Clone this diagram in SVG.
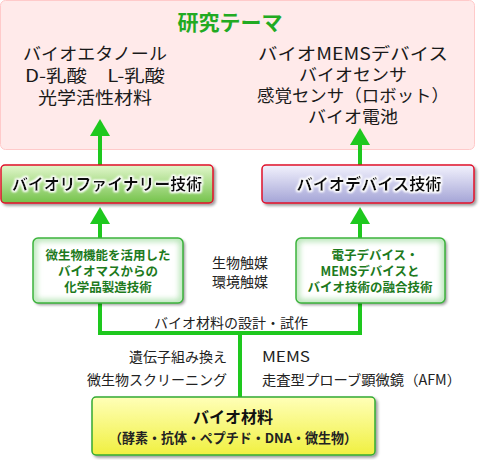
<svg xmlns="http://www.w3.org/2000/svg" width="480" height="460" viewBox="0 0 480 460">
<defs>
<linearGradient id="gGreen" x1="0" y1="0" x2="0" y2="1"><stop offset="0" stop-color="#e2f7cc"/><stop offset="1" stop-color="#74c24a"/></linearGradient>
<linearGradient id="gBlue" x1="0" y1="0" x2="0" y2="1"><stop offset="0" stop-color="#f2f2fd"/><stop offset="1" stop-color="#a4a4d6"/></linearGradient>
<linearGradient id="gYellow" x1="0" y1="0" x2="0" y2="1"><stop offset="0" stop-color="#ffffb8"/><stop offset="1" stop-color="#f0f040"/></linearGradient>
<filter id="shadow" x="-10%" y="-10%" width="130%" height="140%"><feGaussianBlur in="SourceAlpha" stdDeviation="1.5"/><feOffset dx="2" dy="2" result="b"/><feComponentTransfer><feFuncA type="linear" slope="0.4"/></feComponentTransfer><feMerge><feMergeNode/><feMergeNode in="SourceGraphic"/></feMerge></filter>
<filter id="halo" x="-10%" y="-40%" width="120%" height="180%"><feMorphology in="SourceAlpha" operator="dilate" radius="1.3" result="d"/><feGaussianBlur in="d" stdDeviation="1.3" result="b"/><feFlood flood-color="#ffffff" result="w"/><feComposite in="w" in2="b" operator="in" result="h"/><feMerge><feMergeNode in="h"/><feMergeNode in="h"/><feMergeNode in="SourceGraphic"/></feMerge></filter>
<filter id="inner" x="0" y="0" width="100%" height="100%"><feGaussianBlur stdDeviation="3"/></filter>
<clipPath id="clipL"><rect x="33" y="238" width="150" height="65" rx="5"/></clipPath>
<clipPath id="clipR"><rect x="296" y="238" width="149" height="65" rx="5"/></clipPath>
<style>
text{font-family:"Noto Sans CJK JP","Noto Sans",sans-serif;text-anchor:middle;fill:#222;}
.theme{font-size:17px;fill:#1a1a1a;}
.title{font-size:16px;font-weight:bold;fill:#111;}
.small{font-size:12.5px;font-weight:bold;fill:#1d7a1d;}
.mid{font-size:14px;}
.conn{stroke:#1ec81e;stroke-width:4;fill:none;}
.arrow{fill:#1ec81e;}
</style>
</defs>

<g id="research-themes">
<rect x="0.5" y="0.5" width="474" height="149" rx="5" fill="#ffeaea" stroke="#ffcaca"/>
<text x="230" y="30" style="font-size:21px;font-weight:bold;fill:#22aa22;">研究テーマ</text>
<text class="theme" xml:space="preserve"><tspan x="95" y="60" textLength="144" lengthAdjust="spacingAndGlyphs">バイオエタノール</tspan><tspan x="95" y="82" textLength="140" lengthAdjust="spacingAndGlyphs">D-乳酸　L-乳酸</tspan><tspan x="95" y="104" textLength="114" lengthAdjust="spacingAndGlyphs">光学活性材料</tspan></text>
<text class="theme"><tspan x="353" y="60" textLength="190" lengthAdjust="spacingAndGlyphs">バイオMEMSデバイス</tspan><tspan x="353" y="81" textLength="108" lengthAdjust="spacingAndGlyphs">バイオセンサ</tspan><tspan x="353" y="102" textLength="192" lengthAdjust="spacingAndGlyphs">感覚センサ（ロボット）</tspan><tspan x="353" y="123" textLength="90" lengthAdjust="spacingAndGlyphs">バイオ電池</tspan></text>
</g>

<g id="connectors">
<line class="conn" x1="100" y1="134" x2="100" y2="166"/>
<polygon class="arrow" points="100,119 110,136 90,136"/>
<line class="conn" x1="360" y1="143" x2="360" y2="166"/>
<polygon class="arrow" points="360,128 370,145 350,145"/>
<line class="conn" x1="100" y1="222" x2="100" y2="239"/>
<polygon class="arrow" points="100,207 110,224 90,224"/>
<line class="conn" x1="360" y1="222" x2="360" y2="239"/>
<polygon class="arrow" points="360,207 370,224 350,224"/>
<polyline class="conn" points="100,302 100,333 360,333 360,302"/>
<line class="conn" x1="240" y1="333" x2="240" y2="398"/>
</g>

<g id="biorefinery">
<rect x="1" y="165" width="212" height="38" rx="4" fill="url(#gGreen)" stroke="#e0102a" stroke-width="1.5" filter="url(#shadow)"/>
<text class="title" x="107" y="190" filter="url(#halo)" textLength="190" lengthAdjust="spacingAndGlyphs">バイオリファイナリー技術</text>
</g>

<g id="biodevice">
<rect x="262" y="165" width="212" height="38" rx="4" fill="url(#gBlue)" stroke="#e0102a" stroke-width="1.5" filter="url(#shadow)"/>
<text class="title" x="369" y="190" filter="url(#halo)" textLength="145" lengthAdjust="spacingAndGlyphs">バイオデバイス技術</text>
</g>

<g id="microbe-box">
<g filter="url(#shadow)"><rect x="33" y="238" width="150" height="65" rx="5" fill="#ffffff"/></g>
<g clip-path="url(#clipL)"><rect x="33" y="238" width="150" height="65" rx="5" fill="none" stroke="#a8e0a8" stroke-width="6" filter="url(#inner)"/></g>
<rect x="33" y="238" width="150" height="65" rx="5" fill="none" stroke="#3cb43c" stroke-width="1.5"/>
<text class="small"><tspan x="108" y="260">微生物機能を活用した</tspan><tspan x="108" y="276">バイオマスからの</tspan><tspan x="108" y="292">化学品製造技術</tspan></text>
</g>

<g id="device-box">
<g filter="url(#shadow)"><rect x="296" y="238" width="149" height="65" rx="5" fill="#ffffff"/></g>
<g clip-path="url(#clipR)"><rect x="296" y="238" width="149" height="65" rx="5" fill="none" stroke="#a8e0a8" stroke-width="6" filter="url(#inner)"/></g>
<rect x="296" y="238" width="149" height="65" rx="5" fill="none" stroke="#3cb43c" stroke-width="1.5"/>
<text class="small"><tspan x="375" y="260">電子デバイス・</tspan><tspan x="370" y="276">MEMSデバイスと</tspan><tspan x="370" y="292">バイオ技術の融合技術</tspan></text>
</g>

<g id="labels">
<text class="mid"><tspan x="240" y="268">生物触媒</tspan><tspan x="240" y="287">環境触媒</tspan></text>
<text class="mid" x="231" y="328">バイオ材料の設計・試作</text>
<text class="mid" x="227" y="362" style="text-anchor:end">遺伝子組み換え</text>
<text class="mid" x="227" y="385" style="text-anchor:end">微生物スクリーニング</text>
<text class="mid" x="262" y="362" style="text-anchor:start" textLength="48" lengthAdjust="spacingAndGlyphs">MEMS</text>
<text class="mid" x="262" y="385" style="text-anchor:start" textLength="199" lengthAdjust="spacingAndGlyphs">走査型プローブ顕微鏡（AFM）</text>
</g>

<g id="biomaterial">
<rect x="92" y="397" width="283" height="58" rx="4" fill="url(#gYellow)" stroke="#33aa33" stroke-width="1.5" filter="url(#shadow)"/>
<text x="233" y="423" style="font-size:16px;font-weight:bold;fill:#111;">バイオ材料</text>
<text x="233" y="443" style="font-size:13.5px;font-weight:bold;fill:#222;" textLength="248" lengthAdjust="spacingAndGlyphs">（酵素・抗体・ペプチド・DNA・微生物）</text>
</g>
</svg>
